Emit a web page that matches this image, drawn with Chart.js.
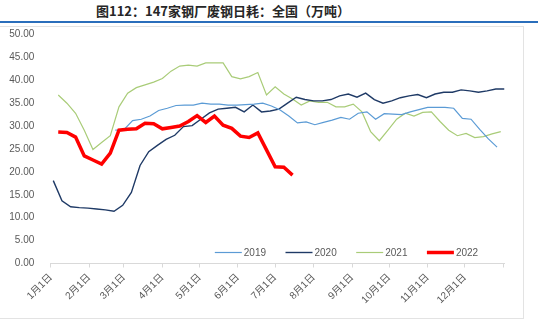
<!DOCTYPE html>
<html>
<head>
<meta charset="utf-8">
<script src="https://cdn.jsdelivr.net/npm/chart.js@4.4.1/dist/chart.umd.min.js"></script>
<style>
  body { margin: 0; background: #fff; width: 538px; height: 328px; overflow: hidden; position: relative; }
  #title { position: absolute; left: 96px; top: 2px; font: bold 13px "Noto Sans CJK SC", sans-serif; line-height: 18px; color: #262626; white-space: nowrap; }
  #rule { position: absolute; left: 0; top: 21px; width: 538px; height: 2px; background: #2a6ebb; }
  #frame { position: absolute; left: -1px; top: 26px; width: 525px; height: 293px; box-sizing: border-box; border: 1px solid #e3e3e3; }
  #mychart { position: absolute; left: 0; top: 0; }
</style>
</head>
<body>
<div id="title">图112：147家钢厂废钢日耗：全国（万吨）</div>
<div id="rule"></div>
<div id="frame"></div>
<canvas id="mychart" width="538" height="328"></canvas>
<script>
const monthLabels = ['1月1日', '2月1日', '3月1日', '4月1日', '5月1日', '6月1日',
  '7月1日', '8月1日', '9月1日', '10月1日', '11月1日', '12月1日'];
const monthStarts = [0, 31, 59, 90, 120, 151, 181, 212, 243, 273, 304, 334, 365];
const yTicks = [0, 5, 10, 15, 20, 25, 30, 35, 40, 45, 50];

// weekly reporting days (offset from each year's first report)
const weekDays = [0, 7, 14, 21, 28, 35, 42, 49, 56, 63, 70, 77, 84, 91, 98, 105, 112,
  119, 126, 133, 140, 147, 154, 161, 168, 175, 182, 189, 196, 203, 210, 217, 224, 231,
  238, 245, 252, 259, 266, 273, 280, 287, 294, 301, 308, 315, 322, 329, 336, 343, 350,
  357, 364];

const years = ['2019', '2020', '2021', '2022'];
const firstDay = [3, 2, 6, 6];

const v2019 = [null, null, null, null, null, null, null, 29.1, 29.2, 31.2, 31.5, 32.2,
  33.4, 33.9, 34.5, 34.6, 34.6, 35.0, 34.8, 34.8, 34.6, 34.6, 34.7, 34.8, 35.0, 34.4,
  33.5, 32.2, 30.7, 30.9, 30.3, 30.8, 31.3, 31.9, 31.5, 32.8, 33.1, 31.5, 32.7, 32.6,
  32.5, 33.1, 33.6, 34.1, 34.1, 34.1, 33.9, 31.7, 31.5, 29.3, 27.2, 25.4];
const v2020 = [18.1, 13.7, 12.4, 12.2, 12.1, 11.9, 11.7, 11.4, 12.7, 15.5, 21.4, 24.4,
  25.8, 27.1, 28.0, 29.9, 30.1, 31.5, 32.9, 33.7, 33.9, 34.1, 33.1, 34.6, 33.1, 33.3,
  33.7, 35.0, 36.3, 35.8, 35.5, 35.5, 35.8, 36.6, 37.0, 36.3, 37.2, 35.8, 35.0, 35.5,
  36.2, 36.6, 36.9, 36.2, 37.0, 37.4, 37.4, 37.9, 37.7, 37.4, 37.7, 38.1, 38.1];
const v2021 = [36.8, 35.0, 32.8, 29.1, 24.9, 26.4, 27.9, 34.2, 37.2, 38.4, 39.0, 39.6,
  40.4, 42.0, 43.1, 43.3, 43.1, 43.8, 43.8, 43.8, 40.8, 40.3, 40.8, 41.7, 36.8, 38.6,
  37.0, 35.9, 34.6, 35.5, 35.2, 35.2, 34.2, 34.2, 34.8, 33.1, 28.8, 26.8, 29.1, 31.5,
  32.8, 32.2, 33.0, 33.1, 31.0, 29.1, 27.9, 28.4, 27.5, 27.7, 28.3, 28.8];
const v2022 = [28.7, 28.6, 27.6, 23.5, 22.6, 21.7, 24.1, 29.1, 29.3, 29.4, 30.6, 30.5,
  29.4, 29.7, 30.0, 31.0, 32.3, 30.8, 32.2, 30.2, 29.5, 27.8, 27.5, 28.5, 24.8, 21.1,
  21.0, 19.3];

const colors = ['#5b9bd5', '#1f3a66', '#a9cc78', '#ff0000'];
const widths = [1.2, 1.4, 1.2, 3.5];

function points(vals, start) {
  return vals.map((v, i) => ({ x: start + weekDays[i], y: v }));
}

const seriesVals = [v2019, v2020, v2021, v2022];

const font = { family: '"Liberation Sans", "Noto Sans CJK SC", sans-serif', size: 10 };

// legend drawn inside the plot, above the x axis
const innerLegend = {
  id: 'innerLegend',
  afterDraw(chart) {
    const { ctx, chartArea } = chart;
    ctx.save();
    ctx.font = '10px "Liberation Sans", sans-serif';
    ctx.textBaseline = 'middle';
    let x = chartArea.left + 164;
    const y = chartArea.bottom - 11;
    chart.data.datasets.forEach(ds => {
      ctx.strokeStyle = ds.borderColor;
      ctx.lineWidth = ds.borderWidth;
      ctx.beginPath();
      ctx.moveTo(x, y);
      ctx.lineTo(x + 27, y);
      ctx.stroke();
      ctx.fillStyle = '#595959';
      ctx.fillText(ds.label, x + 29, y + 0.5);
      x += 70.7;
    });
    ctx.restore();
  }
};

new Chart(document.getElementById('mychart'), {
  type: 'line',
  data: {
    datasets: years.map((y, k) => ({
      label: y,
      data: points(seriesVals[k], firstDay[k]),
      borderColor: colors[k],
      backgroundColor: colors[k],
      borderWidth: widths[k],
      pointRadius: 0,
      tension: 0,
      order: k === 3 ? -1 : k
    }))
  },
  options: {
    responsive: false,
    animation: false,
    layout: { padding: { top: 34.5, right: 33.5, left: 0, bottom: 0 } },
    plugins: {
      legend: { display: false },
      tooltip: { enabled: false }
    },
    scales: {
      x: {
        type: 'linear',
        min: 0,
        max: 366,
        afterBuildTicks: s => { s.ticks = monthStarts.map(v => ({ value: v })); },
        afterFit: s => { s.height = 64.5; },
        grid: { drawOnChartArea: false, drawTicks: true, tickLength: 4, color: '#d9d9d9' },
        border: { color: '#d9d9d9' },
        ticks: {
          autoSkip: false,
          maxRotation: 45,
          minRotation: 45,
          padding: 4,
          color: '#595959',
          font: font,
          callback: v => monthLabels[monthStarts.indexOf(v)] || ''
        }
      },
      y: {
        min: 0,
        max: 50,
        afterBuildTicks: s => { s.ticks = yTicks.map(v => ({ value: v })); },
        afterFit: s => { s.width = 50.8; },
        grid: { display: false, drawTicks: false },
        border: { display: false },
        ticks: {
          padding: 16.5,
          color: '#595959',
          font: font,
          callback: v => v.toFixed(2)
        }
      }
    }
  },
  plugins: [innerLegend]
});
</script>
</body>
</html>
